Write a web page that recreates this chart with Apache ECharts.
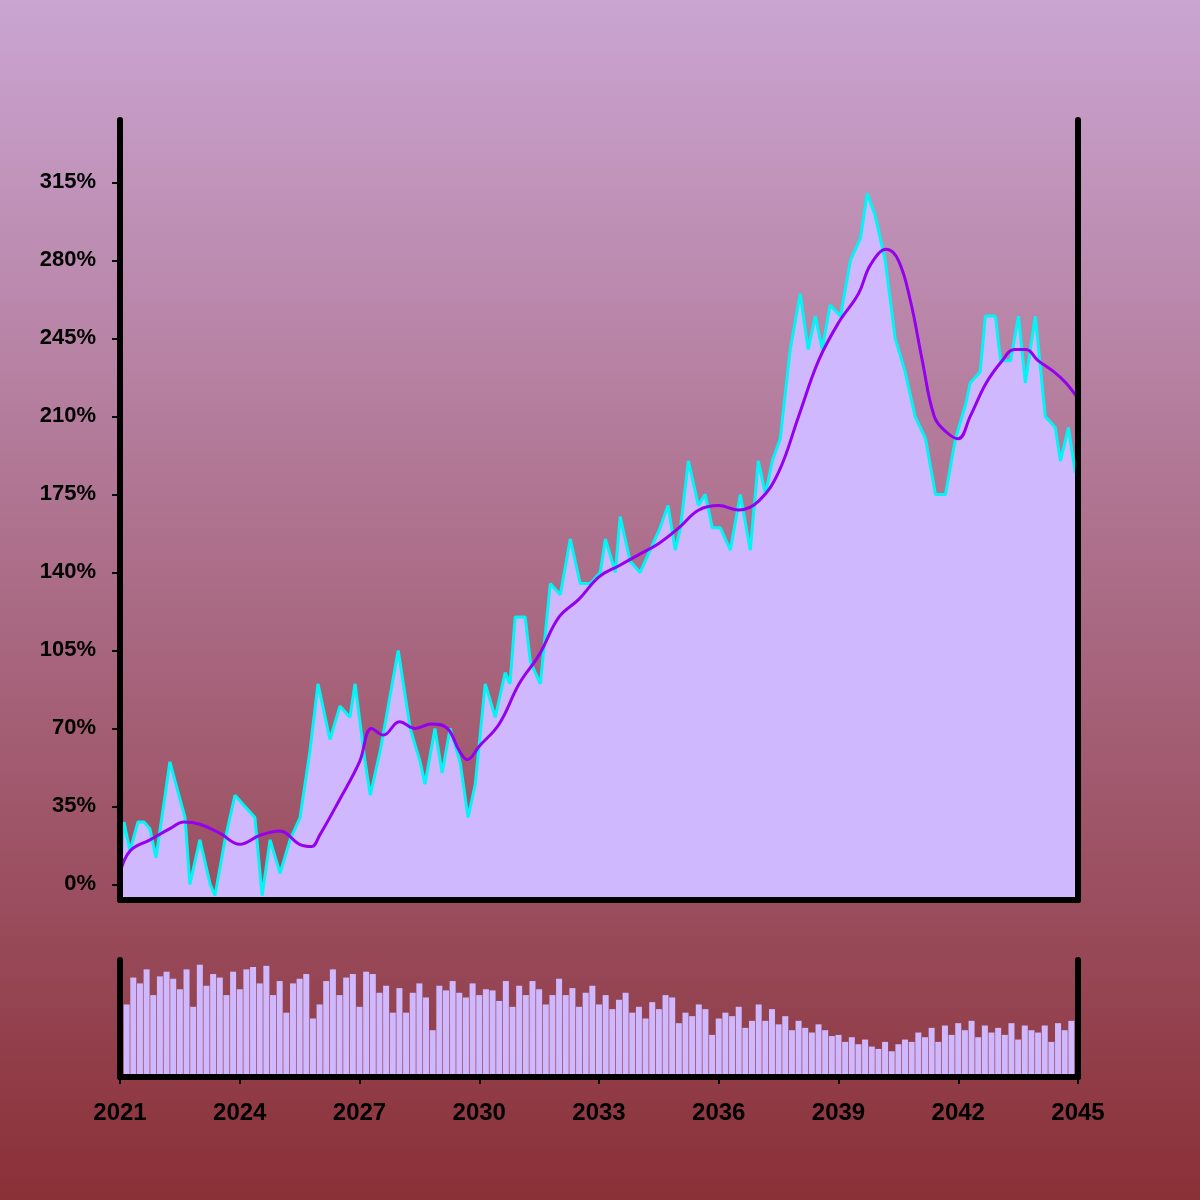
<!DOCTYPE html>
<html><head><meta charset="utf-8">
<script src="https://cdn.jsdelivr.net/npm/echarts@6/dist/echarts.min.js"></script>
<style>html,body{margin:0;padding:0;}#c{width:1200px;height:1200px;}</style>
</head><body><div id="c"></div>
<script>
const BASE_YEAR = 2021;
const priceT = [0,0.1,0.25,0.45,0.6,0.75,0.9,1.13,1.25,1.4,1.63,1.75,2.0,2.26,2.38,2.63,2.88,3.13,3.38,3.56,3.76,4.01,4.26,4.51,4.76,4.96,5.26,5.51,5.76,5.89,6.14,6.27,6.52,6.77,6.97,7.27,7.52,7.64,7.89,8.07,8.27,8.52,8.72,8.90,9.15,9.40,9.65,9.77,9.90,10.15,10.28,10.53,10.78,11.03,11.28,11.53,11.78,12.03,12.16,12.41,12.53,12.78,13.03,13.28,13.53,13.73,13.91,14.04,14.24,14.49,14.66,14.84,15.04,15.29,15.54,15.79,15.99,16.17,16.34,16.54,16.79,17.04,17.24,17.42,17.59,17.79,18.05,18.30,18.55,18.72,18.92,19.17,19.42,19.67,19.92,20.18,20.43,20.68,20.93,21.18,21.30,21.55,21.68,21.93,22.06,22.31,22.51,22.68,22.93,23.18,23.43,23.56,23.76,23.93,24.0];
const priceV = [5,28,15,28,28,25,12,40,55,45,30,0,20,0,-5,20,40,35,30,-5,20,5,20,30,60,90,65,80,75,90,55,40,60,85,105,70,55,45,70,50,70,55,30,45,90,75,95,90,120,120,100,90,135,130,155,135,135,140,155,140,165,145,140,150,160,170,150,160,190,170,175,160,160,150,175,150,190,175,190,200,240,265,240,255,240,260,255,280,290,310,300,280,245,230,210,200,175,175,200,215,225,230,255,255,235,235,255,225,255,210,205,190,205,185,185];
const maT = [0,0.25,0.75,1.25,1.6,2.0,2.5,3.0,3.5,4.0,4.5,4.8,5.0,5.5,6.0,6.3,6.6,7.0,7.4,7.8,8.2,8.5,8.7,9.0,9.5,10.0,10.5,11.0,11.5,12.0,12.5,13.0,13.5,14.0,14.5,15.0,15.5,16.0,16.5,17.0,17.5,18.0,18.5,18.8,19.2,19.5,19.8,20.1,20.4,20.7,21.0,21.3,21.7,22.1,22.4,22.7,23.0,23.4,23.7,24.0];
const maV = [5,15,20,25,28,27,23,18,22,24,18,17,22,38,55,70,67,73,70,72,70,60,56,62,72,90,103,120,128,138,143,148,153,160,168,170,168,172,185,210,235,252,265,278,285,280,262,235,210,203,200,210,225,235,240,240,235,230,225,218];
const volume = [88,62,85,80,92,70, 86,90,84,75,92,60, 96,78,88,85,70,90, 75,92,94,80,95,70, 82,55,80,84,88,50, 62,82,92,70,85,88, 60,90,88,72,78,55, 76,55,72,80,68,40, 78,74,82,72,68,80, 70,75,74,65,82,60, 78,70,82,75,62,70, 84,70,76,60,72,78, 62,70,58,66,72,55, 60,50,64,58,70,68, 46,55,52,62,58,36, 50,55,52,60,42,48, 62,48,58,45,52,40, 48,42,38,45,40,35, 36,30,34,28,32,26, 24,30,22,28,32,30, 38,34,42,30,44,36, 46,40,48,34,44,38, 42,36,46,32,44,40, 38,44,30,46,40,48, 50];
const yTicks = [0,35,70,105,140,175,210,245,280,315];

const price = priceT.map((t,i)=>[t,priceV[i]]);
const ma = maT.map((t,i)=>[t,maV[i]]);
const vol = volume.map((v,i)=>[i/6,v]);
const lineBlack = {show:true,onZero:false,lineStyle:{color:'#000',width:6,cap:'round'}};
const font = {fontFamily:'Liberation Sans, Arial, sans-serif',fontWeight:'bold',color:'#000'};
const chart = echarts.init(document.getElementById('c'));
chart.setOption({
  backgroundColor:{type:'linear',x:0,y:0,x2:0,y2:1,colorStops:[{offset:0,color:'#caa5d2'},{offset:1,color:'#8a3037'}]},
  animation:false,
  grid:[{left:120,right:122,top:120,height:780},{left:120,right:122,top:960,height:117}],
  xAxis:[
    {type:'value',gridIndex:0,z:10,min:0,max:24,interval:3,axisLine:lineBlack,axisTick:{show:false},axisLabel:{show:false},splitLine:{show:false}},
    {type:'value',gridIndex:1,z:10,min:0,max:24,interval:3,axisLine:lineBlack,axisTick:{show:true,length:7,lineStyle:{color:'#000',width:2}},
     axisLabel:Object.assign({fontSize:24,margin:24,formatter:v=>String(v+BASE_YEAR)},font),splitLine:{show:false}}
  ],
  yAxis:[
    {type:'value',gridIndex:0,z:10,min:-7,max:343,position:'left',axisLine:lineBlack,
     axisTick:{show:true,length:8,lineStyle:{color:'#000',width:2},customValues:yTicks},
     axisLabel:Object.assign({fontSize:22,margin:24,customValues:yTicks,formatter:v=>v+'%'},font),splitLine:{show:false}},
    {type:'value',gridIndex:0,z:10,min:-7,max:343,position:'right',axisLine:lineBlack,axisTick:{show:false},axisLabel:{show:false},splitLine:{show:false}},
    {type:'value',gridIndex:1,z:10,min:0,max:100,position:'left',axisLine:lineBlack,axisTick:{show:false},axisLabel:{show:false},splitLine:{show:false}},
    {type:'value',gridIndex:1,z:10,min:0,max:100,position:'right',axisLine:lineBlack,axisTick:{show:false},axisLabel:{show:false},splitLine:{show:false}}
  ],
  series:[
    {type:'line',xAxisIndex:0,yAxisIndex:0,data:price,symbol:'none',z:2,
     lineStyle:{color:'#00f5f5',width:3},areaStyle:{color:'#d0b8ff',opacity:1,origin:'start'}},
    {type:'line',xAxisIndex:0,yAxisIndex:0,data:ma,symbol:'none',smooth:0.4,z:3,
     lineStyle:{color:'#9500ee',width:3}},
    {type:'bar',xAxisIndex:1,yAxisIndex:2,data:vol,barWidth:6,z:2,itemStyle:{color:'#d0b8ff'}}
  ]
});
</script></body></html>
